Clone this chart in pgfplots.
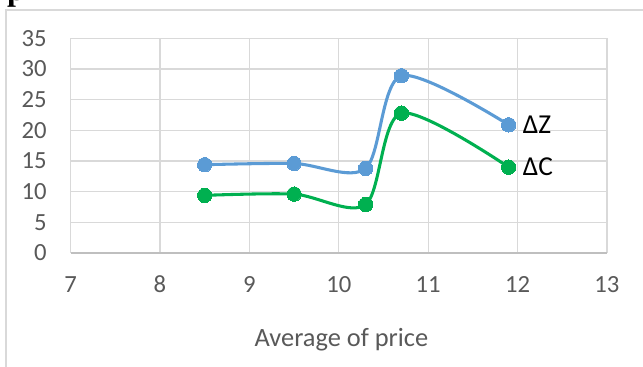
\documentclass[border=0pt]{standalone}
\usepackage{pgfplots}
\pgfplotsset{compat=1.18}
\usepackage{fontspec}
\setmainfont{Carlito}
\newfontfamily\serifbold{Liberation Serif}
\definecolor{zblue}{HTML}{5B9BD5}
\definecolor{cgreen}{HTML}{00B050}
\definecolor{gridgray}{HTML}{D9D9D9}
\definecolor{axisgray}{HTML}{BFBFBF}
\definecolor{txtgray}{HTML}{595959}
\pgfplotstableread{
x y
8.5 14.4
9.5 14.6
10.3 13.8
10.7 28.9
11.9 20.9
}\dz
\pgfplotstableread{
x y
8.5 9.4
9.5 9.6
10.3 7.9
10.7 22.8
11.9 14.0
}\dc
\begin{document}
\begin{tikzpicture}
\useasboundingbox (0,0) rectangle (482.25pt,275.25pt);
\begin{scope}[x=0.75pt,y=-0.75pt,yshift=275.25pt]
  \draw[gridgray, line width=1.2pt] (6,370) -- (6,10) -- (650,10);
  \node[anchor=base, inner sep=0, font=\serifbold\bfseries\fontsize{24}{28}\selectfont] at (16,0.5) {p};
\end{scope}
\begin{axis}[
  at={(52.95pt,85.5pt)}, anchor=south west,
  scale only axis, width=402.3pt, height=160.95pt,
  xmin=7, xmax=13, ymin=0, ymax=35,
  xtick={7,8,...,13}, ytick={0,5,...,35},
  axis x line*=bottom, axis y line*=left,
  x axis line style={axisgray, line width=0.9pt, -},
  y axis line style={gridgray, line width=0.9pt, -},
  grid=major, major grid style={gridgray, line width=0.9pt},
  major tick length=0pt,
  tick label style={font=\fontsize{18.5}{22}\selectfont, text=txtgray},
  /pgf/number format/assume math mode=true,
  yticklabel style={anchor=east, inner sep=0pt, xshift=-17.7pt},
  xticklabel style={anchor=base, inner sep=0pt, yshift=-29.8pt},
  xlabel={Average of price},
  xlabel style={at={(axis description cs:0.5,0)}, anchor=base, inner sep=0pt, yshift=-69.8pt, xshift=2pt, font=\fontsize{19.8}{23}\selectfont, text=txtgray},
  clip=false,
]
\addplot[zblue, line width=2.3pt, smooth, tension=0.5, mark=*, mark size=5.4pt, mark options={fill=zblue, draw=zblue, line width=0pt}] table {\dz};
\addplot[cgreen, line width=2.3pt, smooth, tension=0.5, mark=*, mark size=5.4pt, mark options={fill=cgreen, draw=cgreen, line width=0pt}] table {\dc};
\node[anchor=west, inner sep=0pt, xshift=10.5pt, font=\fontsize{20.5}{24}\selectfont] at (axis cs:11.9,20.9) {ΔZ};
\node[anchor=west, inner sep=0pt, xshift=10.5pt, font=\fontsize{20.5}{24}\selectfont] at (axis cs:11.9,14.0) {ΔC};
\end{axis}
\end{tikzpicture}
\end{document}
